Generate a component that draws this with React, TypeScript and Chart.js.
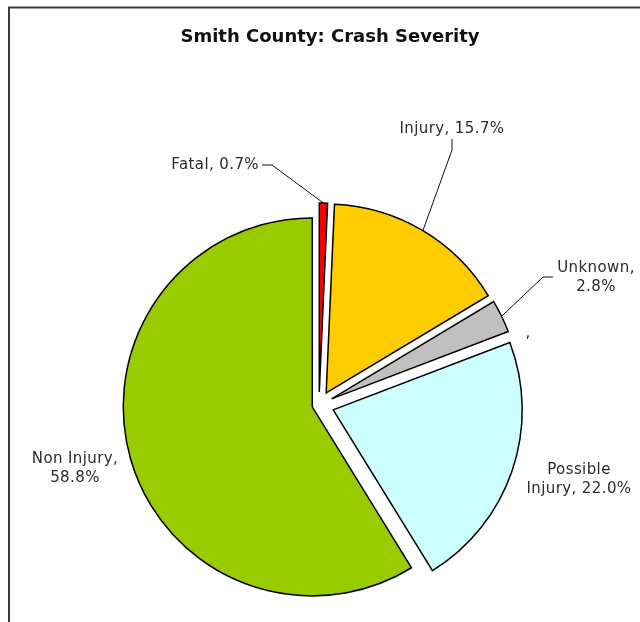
import React, { useEffect, useRef } from "react";
import { Chart, registerables } from "chart.js";

Chart.register(...registerables);

const chartTitle = "Smith County: Crash Severity";
const categories = ["Fatal", "Injury", "Unknown", "", "Possible Injury", "Non Injury"];
const percentages = [0.7, 15.7, 2.8, 0, 22.0, 58.8];
const sliceColors = ["#FF0000", "#FFCC00", "#C0C0C0", "#FFFFFF", "#CCFFFF", "#99CC00"];
const explodeOffsets = [13, 14, 14, 14, 15, 7];

type Placement = {
  x: number;
  y: number;
  align: CanvasTextAlign;
  split: "comma" | "space" | null;
  elbow: number[][] | null;
};

const labelPlacements: Placement[] = [
  { x: 259, y: 165, align: "right", split: null, elbow: [[262, 165], [272, 165]] },
  { x: 452, y: 129, align: "center", split: null, elbow: [[452, 139], [452, 150]] },
  { x: 596, y: 268, align: "center", split: "comma", elbow: [[553, 277], [543, 277]] },
  { x: 528, y: 333, align: "center", split: null, elbow: null },
  { x: 579, y: 470, align: "center", split: "space", elbow: null },
  { x: 75, y: 459, align: "center", split: "comma", elbow: null },
];

const LABEL_FONT = "15px 'DejaVu Sans'";
const LINE_HEIGHT = 19;

function labelText(i: number): string {
  if (percentages[i] === 0) return `${categories[i]},`;
  return `${categories[i]}, ${percentages[i].toFixed(1)}%`;
}

function splitLabel(text: string, mode: Placement["split"]): string[] {
  if (mode === "comma") {
    const k = text.indexOf(", ");
    return k < 0 ? [text] : [text.slice(0, k + 1), text.slice(k + 2)];
  }
  if (mode === "space") {
    const k = text.indexOf(" ");
    return k < 0 ? [text] : [text.slice(0, k), text.slice(k + 1)];
  }
  return [text];
}

const explodePlugin = {
  id: "explodeSlices",
  beforeDatasetsDraw(chart: any) {
    const meta = chart.getDatasetMeta(0);
    meta.data.forEach((arc: any, i: number) => {
      if (arc.__exploded) return;
      const orig = arc.draw.bind(arc);
      arc.draw = (ctx: CanvasRenderingContext2D) => {
        const d = explodeOffsets[i] || 0;
        const mid = (arc.startAngle + arc.endAngle) / 2;
        ctx.save();
        ctx.translate(Math.cos(mid) * d, Math.sin(mid) * d);
        orig(ctx);
        ctx.restore();
      };
      arc.__exploded = true;
    });
  },
};

const framePlugin = {
  id: "frame",
  beforeDraw(chart: any) {
    const ctx = chart.ctx as CanvasRenderingContext2D;
    ctx.save();
    ctx.strokeStyle = "#3a3a3a";
    ctx.lineWidth = 2;
    ctx.beginPath();
    ctx.moveTo(9, chart.height);
    ctx.lineTo(9, 7.5);
    ctx.lineTo(chart.width, 7.5);
    ctx.stroke();
    ctx.restore();
  },
};

const labelsPlugin = {
  id: "sliceLabels",
  afterDatasetsDraw(chart: any) {
    const ctx = chart.ctx as CanvasRenderingContext2D;
    const meta = chart.getDatasetMeta(0);
    ctx.save();
    // title
    ctx.fillStyle = "#111";
    ctx.font = "bold 18px 'DejaVu Sans'";
    ctx.textAlign = "center";
    ctx.textBaseline = "middle";
    ctx.fillText(chartTitle, 330, 37);

    ctx.font = LABEL_FONT;
    try {
      (ctx as any).letterSpacing = "0.4px";
    } catch (e) {}
    meta.data.forEach((arc: any, i: number) => {
      const p = labelPlacements[i];
      if (!p) return;
      const lines = splitLabel(labelText(i), p.split);
      ctx.fillStyle = "#2b2b2b";
      ctx.textAlign = p.align;
      ctx.textBaseline = "middle";
      lines.forEach((ln, k) => ctx.fillText(ln, p.x, p.y + k * LINE_HEIGHT));
      if (p.elbow) {
        const mid = (arc.startAngle + arc.endAngle) / 2;
        const d = explodeOffsets[i] || 0;
        const r = arc.outerRadius + d;
        const ex = arc.x + Math.cos(mid) * r;
        const ey = arc.y + Math.sin(mid) * r;
        ctx.strokeStyle = "#111";
        ctx.lineWidth = 1;
        ctx.beginPath();
        ctx.moveTo(p.elbow[0][0], p.elbow[0][1]);
        for (let k = 1; k < p.elbow.length; k++) ctx.lineTo(p.elbow[k][0], p.elbow[k][1]);
        ctx.lineTo(ex, ey);
        ctx.stroke();
      }
    });
    ctx.restore();
  },
};

export default function App() {
  const canvasRef = useRef<HTMLCanvasElement | null>(null);

  useEffect(() => {
    if (!canvasRef.current) return;
    const chart = new Chart(canvasRef.current, {
      type: "pie",
      data: {
        labels: categories,
        datasets: [
          {
            data: percentages,
            backgroundColor: sliceColors,
            borderColor: "#000",
            borderWidth: 1.5,
            borderJoinStyle: "miter",
            clip: false,
          } as any,
        ],
      },
      options: {
        animation: false,
        responsive: false,
        radius: 189,
        layout: { padding: { top: 188, bottom: 0, left: 0, right: 2 } },
        plugins: {
          legend: { display: false },
          title: { display: false },
          tooltip: { enabled: false },
        },
      } as any,
      plugins: [framePlugin, explodePlugin, labelsPlugin],
    });
    return () => chart.destroy();
  }, []);

  return (
    <div style={{ position: "absolute", left: 0, top: 0, width: 640, height: 622, background: "#fff" }}>
      <canvas ref={canvasRef} width={640} height={622} style={{ display: "block" }} />
    </div>
  );
}
